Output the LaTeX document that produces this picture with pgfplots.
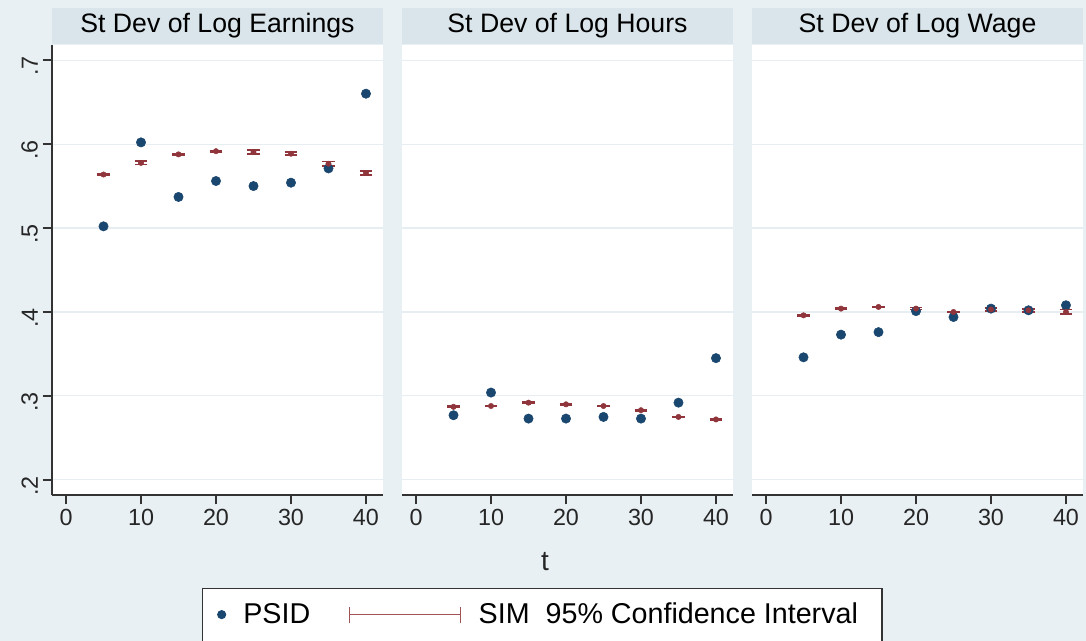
\documentclass[border=0pt]{standalone}
\usepackage{fontspec}
\setmainfont{Liberation Sans}
\usepackage{pgfplots}
\pgfplotsset{compat=1.18}
\definecolor{outerbg}{HTML}{E8F0F3}
\definecolor{stripbg}{HTML}{D9E5EB}
\definecolor{gridc}{HTML}{E6EEF1}
\definecolor{psid}{HTML}{1A476F}
\definecolor{sim}{HTML}{90353B}
\pgfplotsset{
  panel/.style={
    scale only axis, width=248.25pt, height=337.5pt,
    xmin=-1.87, xmax=42.27, ymin=0.182, ymax=0.718,
    xtick={0,10,20,30,40},
    ytick={0.2,0.3,0.4,0.5,0.6,0.7},
    axis x line*=bottom, axis y line*=left,
    axis line style={black!80, line width=1pt},
    tick align=outside,
    major tick length=7pt,
    tick style={black!80, line width=1pt},
    ymajorgrids, grid style={gridc, line width=0.8pt},
    axis background/.style={fill=white},
    ticklabel style={font=\fontsize{17.5}{20}\selectfont, text=black!85},
    /pgf/number format/assume math mode=true,
    yticklabel style={rotate=90, anchor=south, xshift=-4.5pt},
    every axis title shift=0pt,
    title style={at={(0.5,1)}, anchor=south, fill=stripbg, minimum width=248.25pt,
      minimum height=27pt, inner sep=0pt, yshift=0.75pt, font=\fontsize{20}{24}\selectfont},
    clip=false,
  },
  noy/.style={y axis line style={draw=none}, ytick style={draw=none}, yticklabels={,,,,,}},
  psidplot/.style={only marks, mark=*, mark size=3.5pt, color=psid,
    legend image code/.code={\fill[psid] (0pt,0pt) circle (3pt); \path[draw=none,fill=none] (-10.3pt,0pt) -- (14.25pt,0pt) (0pt,-16pt);}},
  simplot/.style={sim, only marks, mark=none,
    error bars/.cd, y dir=both, y explicit, error mark=|,
    error mark options={sim, mark size=4.75pt, line width=1.3pt},
    error bar style={sim, line width=1.1pt},
    /pgfplots/legend image code/.code={\draw[sim!85, line width=0.75pt] (0pt,0pt) -- (83.25pt,0pt) (0pt,-6pt) -- (0pt,6pt) (83.25pt,-6pt) -- (83.25pt,6pt); \path[draw=none,fill=none] (0pt,0pt) -- (95pt,0pt);}},
}
\begin{document}
\begin{tikzpicture}
\fill[outerbg] (0,0) rectangle (814.5pt,-480.75pt);
\useasboundingbox (0,0) rectangle (814.5pt,-480.75pt);

\begin{axis}[panel, yticklabels={.2,.3,.4,.5,.6,.7}, at={(39pt,-371.25pt)}, anchor=south west, title={St Dev of Log Earnings}]
\addplot[psidplot] coordinates {(5,0.502) (10,0.602) (15,0.537) (20,0.556) (25,0.550) (30,0.554) (35,0.571) (40,0.660)};
\addplot[simplot] coordinates {
 (5,0.5637) +- (0,0.0006) (10,0.5776) +- (0,0.0018) (15,0.5877) +- (0,0.0006) (20,0.5915) +- (0,0.0006)
 (25,0.5905) +- (0,0.0022) (30,0.5885) +- (0,0.0018) (35,0.5766) +- (0,0.0026) (40,0.5655) +- (0,0.0026)};
\end{axis}

\begin{axis}[panel, noy, at={(301.5pt,-371.25pt)}, anchor=south west, title={St Dev of Log Hours},
  legend style={at={(-0.604,-0.2067)}, anchor=north west, draw=black!80, fill=white, line width=0.8pt,
    font=\fontsize{21.5}{24}\selectfont, inner xsep=4pt, inner ysep=9pt,
    /tikz/every even column/.append style={column sep=27pt}},
  legend columns=2]
\addplot[psidplot] coordinates {(5,0.277) (10,0.304) (15,0.273) (20,0.273) (25,0.275) (30,0.273) (35,0.292) (40,0.345)};
\addlegendentry{PSID}
\addplot[simplot] coordinates {
 (5,0.287) +- (0,0.0006) (10,0.288) +- (0,0.0006) (15,0.292) +- (0,0.0006) (20,0.290) +- (0,0.0006)
 (25,0.288) +- (0,0.0003) (30,0.283) +- (0,0.0006) (35,0.275) +- (0,0.0006) (40,0.272) +- (0,0.0006)};
\addlegendentry{SIM\ \ 95\% Confidence Interval\rule{12pt}{0pt}}
\end{axis}

\begin{axis}[panel, noy, at={(564pt,-371.25pt)}, anchor=south west, title={St Dev of Log Wage}]
\addplot[psidplot] coordinates {(5,0.346) (10,0.373) (15,0.376) (20,0.401) (25,0.394) (30,0.404) (35,0.402) (40,0.408)};
\addplot[simplot] coordinates {
 (5,0.396) +- (0,0.0006) (10,0.404) +- (0,0.0006) (15,0.406) +- (0,0.0006) (20,0.404) +- (0,0.0012)
 (25,0.400) +- (0,0.0006) (30,0.403) +- (0,0.0018) (35,0.402) +- (0,0.0018) (40,0.400) +- (0,0.0028)};
\end{axis}

\node[font=\fontsize{21}{24}\selectfont, text=black!85] at (408.75pt,-421.5pt) {t};
\end{tikzpicture}
\end{document}
